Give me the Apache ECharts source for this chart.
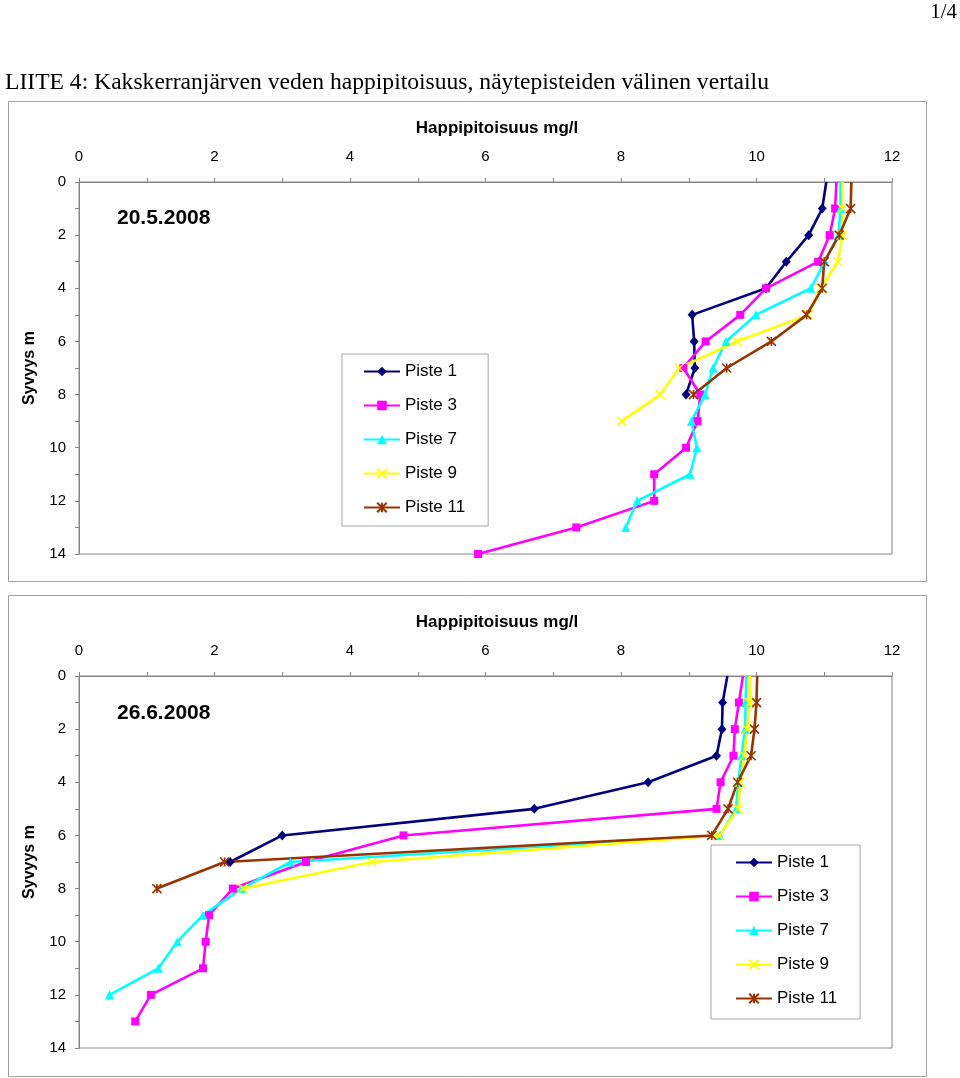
<!DOCTYPE html>
<html>
<head>
<meta charset="utf-8">
<script src="https://cdn.jsdelivr.net/npm/echarts@6/dist/echarts.min.js"></script>
<style>
html,body{margin:0;padding:0;background:#fff;}
#chart{width:960px;height:1078px;}
</style>
</head>
<body>
<div id="chart"></div>
<script>
// depth (m) for each measurement index
const depths = [0, 1, 2, 3, 4, 5, 6, 7, 8, 9, 10, 11, 12, 13, 14];
const seriesNames = ['Piste 1', 'Piste 3', 'Piste 7', 'Piste 9', 'Piste 11'];
const xTicks = [0, 2, 4, 6, 8, 10, 12];
const yTicks = [0, 2, 4, 6, 8, 10, 12, 14];

// 20.5.2008 oxygen (mg/l) by depth
const may_piste1 = [11.03, 10.97, 10.77, 10.44, 10.14, 9.05, 9.08, 9.09, 8.96];
const may_piste3 = [11.18, 11.16, 11.08, 10.91, 10.14, 9.76, 9.25, 8.92, 9.17, 9.13, 8.96, 8.49, 8.49, 7.34, 5.89];
const may_piste7 = [11.24, 11.24, 11.21, 11.01, 10.8, 9.99, 9.55, 9.36, 9.24, 9.04, 9.12, 9.02, 8.24, 8.07];
const may_piste9 = [11.27, 11.27, 11.27, 11.2, 10.95, 10.76, 9.71, 8.86, 8.58, 8.01];
const may_piste11 = [11.4, 11.39, 11.22, 11.0, 10.97, 10.74, 10.22, 9.56, 9.07];

// 26.6.2008 oxygen (mg/l) by depth
const jun_piste1 = [9.57, 9.5, 9.49, 9.41, 8.4, 6.72, 3.0, 2.23];
const jun_piste3 = [9.8, 9.74, 9.68, 9.66, 9.47, 9.41, 4.79, 3.35, 2.27, 1.92, 1.87, 1.83, 1.06, 0.83];
const jun_piste7 = [9.85, 9.84, 9.83, 9.78, 9.73, 9.7, 9.46, 3.12, 2.4, 1.83, 1.45, 1.17, 0.45];
const jun_piste9 = [9.9, 9.9, 9.86, 9.82, 9.76, 9.73, 9.45, 4.32, 2.42];
const jun_piste11 = [10.01, 10.0, 9.97, 9.92, 9.72, 9.58, 9.34, 2.15, 1.15];

const SANS = '"Liberation Sans", Arial, sans-serif';
const SERIF = '"Liberation Serif", "Times New Roman", serif';
const AXIS_GRAY = '#868686';

const styles = [
  { color: '#000080', symbol: 'diamond', size: [9, 10], stroke: 0 },
  { color: '#FF00FF', symbol: 'rect', size: 8, stroke: 0 },
  { color: '#00FFFF', symbol: 'triangle', size: 9, stroke: 0 },
  { color: '#FFFF00', symbol: 'path://M0,0L10,10M10,0L0,10', size: 9, stroke: 1.6 },
  { color: '#993300', symbol: 'path://M0,0L10,10M10,0L0,10M5,0L5,10', size: 9, stroke: 1.6 }
];

function mkSeries(idx, values, gi) {
  const st = styles[idx];
  return {
    name: seriesNames[idx],
    type: 'line',
    xAxisIndex: gi,
    yAxisIndex: gi,
    data: values.map((v, i) => i === 0 ? { value: [v, depths[i]], symbol: 'none' } : [v, depths[i]]),
    symbol: st.symbol,
    symbolSize: st.size,
    showSymbol: true,
    lineStyle: { color: st.color, width: 2.6 },
    itemStyle: { color: st.color, borderColor: st.color, borderWidth: st.stroke },
    emphasis: { disabled: true },
    animation: false
  };
}

function xAxisFor(gi) {
  return {
    type: 'value', gridIndex: gi, position: 'top',
    min: 0, max: 12, interval: 1,
    name: 'Happipitoisuus mg/l', nameLocation: 'middle', nameGap: 45,
    nameTextStyle: { fontFamily: SANS, fontSize: 17, fontWeight: 'bold', color: '#000', padding: [0, 0, 0, 23] },
    axisLine: { show: true, lineStyle: { color: AXIS_GRAY, width: 1 } },
    axisTick: { show: true, inside: false, length: 4, lineStyle: { color: AXIS_GRAY } },
    axisLabel: {
      margin: 18, fontFamily: SANS, fontSize: 15, color: '#000',
      formatter: v => xTicks.indexOf(v) >= 0 ? String(v) : ''
    },
    splitLine: { show: false }
  };
}

function yAxisFor(gi) {
  return {
    type: 'value', gridIndex: gi, inverse: true,
    min: 0, max: 14, interval: 1,
    name: 'Syvyys m', nameLocation: 'middle', nameGap: 41, nameRotate: 90,
    nameTextStyle: { fontFamily: SANS, fontSize: 16, fontWeight: 'bold', color: '#000' },
    axisLine: { show: true, onZero: false, lineStyle: { color: AXIS_GRAY, width: 1 } },
    axisTick: { show: true, inside: false, length: 4, lineStyle: { color: AXIS_GRAY } },
    axisLabel: {
      margin: 13, fontFamily: SANS, fontSize: 15, color: '#000',
      formatter: v => yTicks.indexOf(v) >= 0 ? String(v) : ''
    },
    splitLine: { show: false }
  };
}

function legendFor(left, top, padding) {
  return {
    orient: 'vertical', left: left, top: top,
    data: seriesNames,
    itemWidth: 36, itemHeight: 12, itemGap: 17,
    padding: padding,
    backgroundColor: '#fff',
    borderColor: '#a6a6a6', borderWidth: 1,
    textStyle: { fontFamily: SANS, fontSize: 17, color: '#000', lineHeight: 17 },
    selectedMode: false
  };
}

const option = {
  backgroundColor: '#fff',
  animation: false,
  grid: [
    { left: 79, top: 182, width: 813, height: 372, show: true, borderColor: AXIS_GRAY, borderWidth: 1, backgroundColor: 'transparent' },
    { left: 79, top: 676, width: 813, height: 372, show: true, borderColor: AXIS_GRAY, borderWidth: 1, backgroundColor: 'transparent' }
  ],
  xAxis: [xAxisFor(0), xAxisFor(1)],
  yAxis: [yAxisFor(0), yAxisFor(1)],
  legend: [
    legendFor(342, 354, [9, 23, 10, 21]),
    legendFor(711, 845, [9, 23, 12, 24])
  ],
  graphic: [
    { type: 'rect', z: -10, shape: { x: 8.5, y: 101.5, width: 918, height: 480 }, style: { fill: '#fff', stroke: '#a0a0a0', lineWidth: 1 } },
    { type: 'rect', z: -10, shape: { x: 8.5, y: 595.5, width: 918, height: 481 }, style: { fill: '#fff', stroke: '#a0a0a0', lineWidth: 1 } },
    { type: 'text', left: 5, top: 71, style: { text: 'LIITE 4: Kakskerranjärven veden happipitoisuus, näytepisteiden välinen vertailu', fontFamily: SERIF, fontSize: 23.6, fill: '#000' } },
    { type: 'text', right: 3, top: 2, style: { text: '1/4', fontFamily: SERIF, fontSize: 21, fill: '#000' } },
    { type: 'text', left: 117, top: 208, style: { text: '20.5.2008', fontFamily: SANS, fontSize: 21, fontWeight: 'bold', fill: '#000' } },
    { type: 'text', left: 117, top: 703, style: { text: '26.6.2008', fontFamily: SANS, fontSize: 21, fontWeight: 'bold', fill: '#000' } }
  ],
  series: [
    mkSeries(0, may_piste1, 0),
    mkSeries(1, may_piste3, 0),
    mkSeries(2, may_piste7, 0),
    mkSeries(3, may_piste9, 0),
    mkSeries(4, may_piste11, 0),
    mkSeries(0, jun_piste1, 1),
    mkSeries(1, jun_piste3, 1),
    mkSeries(2, jun_piste7, 1),
    mkSeries(3, jun_piste9, 1),
    mkSeries(4, jun_piste11, 1)
  ]
};

const chart = echarts.init(document.getElementById('chart'), null, { renderer: 'canvas' });
chart.setOption(option);
</script>
</body>
</html>
